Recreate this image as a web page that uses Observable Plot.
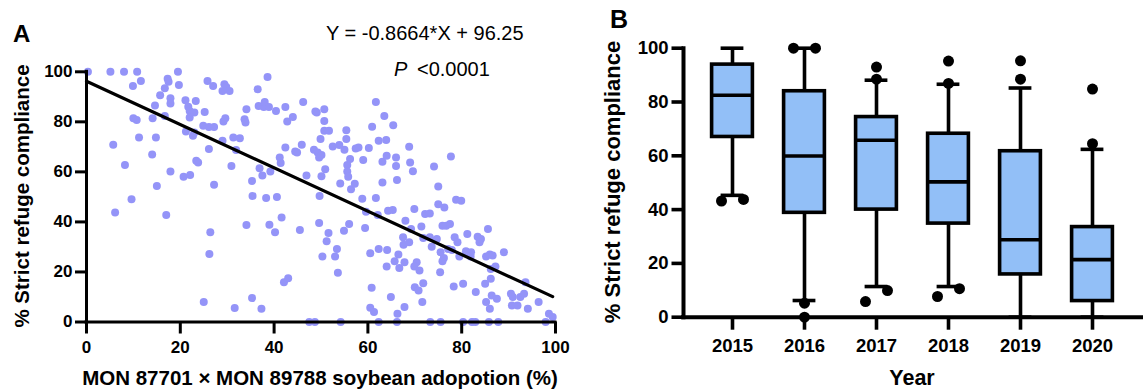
<!DOCTYPE html>
<html><head><meta charset="utf-8">
<script src="https://cdn.jsdelivr.net/npm/d3@7"></script>
<script src="https://cdn.jsdelivr.net/npm/@observablehq/plot@0.6"></script>
<style>
body{margin:0;background:#fff;}
#wrap{position:relative;width:1146px;height:391px;overflow:hidden;font-family:"Liberation Sans",Arial,sans-serif;color:#000;background:#fff;}
#wrap svg{position:absolute;top:0;}
</style></head><body><div id="wrap"></div>
<script>
// ---------- Panel A data ----------
const adoptionX = [0.3,5.1,8,10.8,11.6,9.9,5.7,8.2,10,10.7,11.2,14,14.1,14.6,14.8,15,15.7,16.7,16.7,17.3,17.5,17.9,17.9,17.9,19.5,19.7,20.7,21.1,21.7,22,22,23,23.3,21.2,22.7,23,22.1,23.4,23.8,24.9,25.2,25.8,26.1,26.1,27,27.2,27.2,29,29.2,29.6,29.4,29.8,29,30.5,30.9,31.3,31.9,32.7,33.7,34.1,33.9,35.3,35.4,36.5,36.7,36.9,37.5,37.8,38,38.3,38.6,38.9,39.2,40.4,40.6,41.2,41.4,42.4,42.4,42.8,44,44.5,44.9,46.2,45.9,46.9,48.5,49.1,48.8,49.3,49.6,49.9,50.1,49.7,50.1,50.7,50.7,50.7,51.7,50.9,52.5,53.9,54.1,55,55.4,55.4,55.6,55.6,55.8,56.2,56.4,57.2,57.4,58,59,58.8,60.2,60.9,61.7,61.7,62.3,63.1,63.1,63.5,63.9,64,65.4,66,66,66.2,68.8,69,69.6,74.1,75,77.7,78.8,79.9,9.6,
6.1,17,25,26.4,26.2,31.6,34.1,35.3,37.3,39,41.6,40.2,42.1,43,45.5,47.5,48.7,49.6,50.3,51.2,51.6,53,53.4,53.6,54.2,54.9,56,59.4,59.6,60.5,60.8,60.5,61.3,62.1,62.3,62.3,64.1,64,64.3,65.3,64.9,65.7,66.2,66.5,66.3,66.7,67.8,67.8,68,67.5,67.6,68.8,69.2,69.9,70,70.4,69.9,71,70.8,71.6,71.8,71.4,71.8,72.2,73.2,73.3,73.6,73.2,74.7,75,75.5,75.4,75.5,75.9,76.2,75.9,76.3,76.7,77.1,77.5,77.9,78.3,78.5,79.1,79.5,80.3,80.3,80.9,81.2,82,81.9,82.2,82.9,83,83.4,83.8,84.1,85,85.2,85.2,85.6,85.8,86,86.2,86.2,86,86.4,86.6,87.2,87.5,87.8,89,90.5,90.9,90.7,91.9,92.5,93.3,93.6,94.1,96.4,97.9,98.6,99.4];
const complianceY = [100,100,100,100,96.3,94.3,70.8,62.7,81.4,80.7,73.7,66.9,81.4,86.5,73.7,54.4,90.6,93.4,82.3,97.2,96,89.4,87.3,60.2,100,94.7,58.1,88.6,86,84.3,81.7,83.7,88.3,76.1,74.4,75.7,58.8,64.4,63.7,78.4,83.9,96.3,69.1,77.9,94.3,77.9,54.9,72.4,80.1,81.4,95,93.9,92.3,92.3,62.4,73.7,68.7,73.4,81,85,79.7,56.4,50.4,93,86.3,61.5,58.6,85.9,87.9,49.6,97.9,85.9,60.2,84.3,50,65.7,63.5,69.7,85.9,80.1,81.9,68.1,67.7,87.9,70.8,58.6,68.8,83.7,84.1,67.7,65.7,73.1,66.7,50.4,58.3,85,80.3,76.4,76.4,61.1,70.1,70.7,55.4,68.8,76.6,73.1,62.7,60.2,58.1,65.1,53.1,55.3,69.3,69.7,64.7,49.3,69.5,78,87.9,49.6,72.4,64,55.8,82.3,72.7,66.4,78.6,65.7,62.4,56.8,70,63.7,60.3,62.2,54.2,66.1,48.9,48.5,49.1,
43.8,42.8,8,35.9,27.2,5.6,38.8,9.6,5.3,38.9,41.8,35.9,15.9,17.5,36.8,0,0,39.6,26.2,32.3,35.6,26.2,29.2,19.7,0,36.5,39.2,37.6,44.1,27.5,13.7,5.7,4,42.8,0,29.2,28.8,22.2,44.5,44.8,10,24.3,0,27,3.3,21.6,6,23.9,40.5,33.9,30.9,31.9,37.2,45.2,13.9,23.9,22.2,20.6,12.6,8,15.5,38.2,33.6,43.2,43.4,0,30.1,33.9,33.2,47.1,0,19.9,27.9,24.3,25.6,38.5,45.8,38.5,29.2,39.2,28.8,14.2,33.9,31.9,26.2,0,15.3,28.3,35.2,27.9,26.2,0,0,12,34.1,31.9,33.2,15.3,8,26.2,37.2,0,5.3,17.3,21.2,27,10.6,26.6,22.2,9.3,0,27.9,11.3,10,6.6,6.6,10,11.3,15.9,5.3,8,0,3.3,2];
const slope = -0.8664, intercept = 96.25;
const fitRangeX = [0, 99.4];
const ticksA = [0, 20, 40, 60, 80, 100];

// ---------- Panel B data ----------
const years = ["2015","2016","2017","2018","2019","2020"];
const boxQ1 = [67.0, 38.8, 40.0, 34.8, 15.9, 6.0];
const boxMedian = [82.5, 59.9, 65.8, 50.3, 28.8, 21.4];
const boxQ3 = [93.9, 84.0, 74.4, 68.2, 61.7, 33.5];
const whiskerLow = [45.3, 6.2, 11.4, 11.4, 0, 0];
const whiskerHigh = [100, 100, 88.1, 86.6, 85.2, 62.4];
const outlierYear = ["2015","2015","2016","2016","2016","2016","2017","2017","2017","2017","2018","2018","2018","2018","2019","2019","2020","2020"];
const outlierValue = [43.2,43.8,100,100,5.2,0,93.0,88.5,5.8,9.9,95.2,86.9,7.7,10.6,95.3,88.5,84.8,64.5];
const outlierSide = ["left","right","left","right","mid","mid","mid","mid","left","right","mid","mid","left","right","mid","mid","mid","mid"];
const ticksB = [0, 20, 40, 60, 80, 100];

// ---------- build ----------
const FONT = '"Liberation Sans", Arial, Helvetica, sans-serif';
const scatter = adoptionX.map((x, i) => ({x, y: complianceY[i]}));
const fit = fitRangeX.map(x => ({x, y: slope * x + intercept}));

const plotA = Plot.plot({
  width: 600, height: 391,
  marginLeft: 86, marginRight: 45, marginTop: 71.3, marginBottom: 69.5,
  x: {domain: [0, 100]},
  y: {domain: [0, 100]},
  style: {fontFamily: FONT, fontWeight: "bold", background: "transparent", color: "#000", overflow: "visible"},
  marks: [
    Plot.dot(scatter, {x: "x", y: "y", r: 4, fill: "#9494F8"}),
    Plot.line(fit, {x: "x", y: "y", stroke: "#000", strokeWidth: 3.2}),
    Plot.ruleX([0], {stroke: "#000", strokeWidth: 3, strokeLinecap: "square"}),
    Plot.ruleY([0], {stroke: "#000", strokeWidth: 3, strokeLinecap: "square"}),
    Plot.axisX(ticksA, {tickSize: 12, tickPadding: 7, fontSize: 17, strokeWidth: 3, label: null, tickFormat: d => d}),
    Plot.axisY(ticksA, {tickSize: 11, tickPadding: 3, fontSize: 17, strokeWidth: 3, label: null, tickFormat: d => d})
  ]
});

const boxes = years.map((year, i) => ({year, q1: boxQ1[i], med: boxMedian[i], q3: boxQ3[i], lo: whiskerLow[i], hi: whiskerHigh[i]}));
const outliers = outlierYear.map((year, i) => ({year, value: outlierValue[i], side: outlierSide[i]}));
const SW = 3.6;
const plotB = Plot.plot({
  width: 556, height: 391,
  marginLeft: 93, marginRight: 5, marginTop: 47.7, marginBottom: 74.3,
  x: {type: "band", domain: years, paddingInner: 0, paddingOuter: 0.16},
  y: {domain: [0, 100]},
  style: {fontFamily: FONT, fontWeight: "bold", background: "transparent", color: "#000", overflow: "visible"},
  marks: [
    Plot.ruleX(boxes, {x: "year", y1: "q3", y2: "hi", stroke: "#000", strokeWidth: SW}),
    Plot.ruleX(boxes, {x: "year", y1: "lo", y2: "q1", stroke: "#000", strokeWidth: SW}),
    Plot.tickY(boxes, {x: "year", y: "hi", stroke: "#000", strokeWidth: SW, insetLeft: 24.6, insetRight: 24.6}),
    Plot.tickY(boxes, {x: "year", y: "lo", stroke: "#000", strokeWidth: SW, insetLeft: 24.6, insetRight: 24.6}),
    Plot.barY(boxes, {x: "year", y1: "q1", y2: "q3", fill: "#92BFF7", stroke: "#000", strokeWidth: SW, insetLeft: 15.6, insetRight: 15.6}),
    Plot.tickY(boxes, {x: "year", y: "med", stroke: "#000", strokeWidth: SW, insetLeft: 15.6, insetRight: 15.6}),
    Plot.dot(outliers.filter(d => d.side === "mid"), {x: "year", y: "value", r: 5.5, fill: "#000"}),
    Plot.dot(outliers.filter(d => d.side === "left"), {x: "year", y: "value", r: 5.5, fill: "#000", dx: -11}),
    Plot.dot(outliers.filter(d => d.side === "right"), {x: "year", y: "value", r: 5.5, fill: "#000", dx: 11}),
    Plot.ruleY([0], {stroke: "#000", strokeWidth: 4, strokeLinecap: "square"}),
    Plot.frame({anchor: "left", stroke: "#000", strokeWidth: 4}),
    Plot.axisX({tickSize: 13, tickPadding: 8.5, fontSize: 18.5, strokeWidth: 3.6, label: null}),
    Plot.axisY(ticksB, {tickSize: 11.5, tickPadding: 3.5, fontSize: 18.5, strokeWidth: 3.6, label: null, tickFormat: d => d})
  ]
});

const wrap = document.getElementById("wrap");
plotA.style.left = "0px";
plotB.style.left = "590px";
wrap.appendChild(plotA);
wrap.appendChild(plotB);

// ---------- text overlay ----------
const ov = d3.select(wrap).append("svg")
  .attr("width", 1146).attr("height", 391)
  .style("left", "0px").style("pointer-events", "none")
  .style("font-family", FONT);
function txt(x, y, s, size, weight, anchor, rot, italic) {
  const t = ov.append("text").attr("x", x).attr("y", y).text(s)
    .attr("font-size", size).attr("font-weight", weight || "normal")
    .attr("text-anchor", anchor || "start").attr("fill", "#000");
  if (italic) t.attr("font-style", "italic");
  if (rot) t.attr("transform", `rotate(-90 ${x} ${y})`);
  return t;
}
txt(13, 42, "A", 24, "bold");
txt(326, 40, "Y = -0.8664*X + 96.25", 20, "normal");
txt(394, 76, "P", 20, "normal", "start", false, true);
txt(417, 76, "<0.0001", 20, "normal");
txt(320, 385, "MON 87701 × MON 89788 soybean adopotion (%)", 20.5, "bold", "middle");
txt(29, 196, "% Strict refuge compliance", 20.5, "bold", "middle", true);
txt(610, 28, "B", 25, "bold");
txt(620, 182, "% Strict refuge compliance", 22, "bold", "middle", true);
txt(912, 385, "Year", 21.5, "bold", "middle");
</script>
</body></html>
